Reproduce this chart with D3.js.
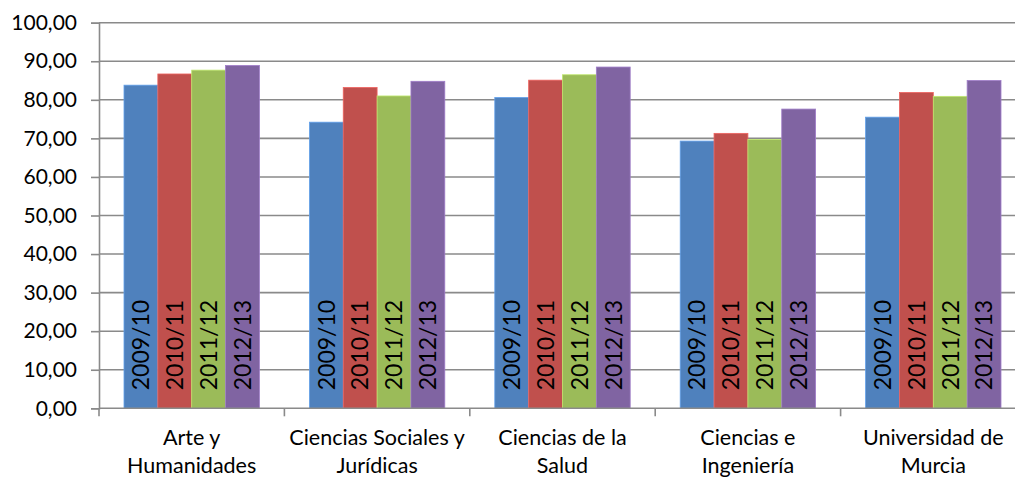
<!DOCTYPE html>
<html>
<head>
<meta charset="utf-8">
<script src="https://cdn.jsdelivr.net/npm/d3@7"></script>
<style>
html,body{margin:0;padding:0;background:#fff;}
svg{display:block;}
text{font-family:Lato, "Open Sans", sans-serif;fill:#000;}
</style>
</head>
<body>
<svg id="chart" width="1015" height="479"></svg>
<script>
const categories = [["Arte y","Humanidades"],["Ciencias Sociales y","Jurídicas"],["Ciencias de la","Salud"],["Ciencias e","Ingeniería"],["Universidad de","Murcia"]];
const seriesNames = ["2009/10","2010/11","2011/12","2012/13"];
const colors = ["#4F81BD","#C0504D","#9BBB59","#8064A2"];
const v2009 = [83.8, 74.2, 80.6, 69.3, 75.5];
const v2010 = [86.7, 83.2, 85.1, 71.3, 81.9];
const v2011 = [87.7, 81.0, 86.5, 69.7, 80.9];
const v2012 = [88.9, 84.8, 88.5, 77.6, 85.0];
const yTicks = [0,10,20,30,40,50,60,70,80,90,100];

(function(){
const values = [v2009, v2010, v2011, v2012];
const svg = d3.select("#chart");
const left = 99, topY = 22.7, bottom = 408.3, catW = 185.4;
const x = d3.scaleBand().domain(d3.range(categories.length)).range([left, left + catW*categories.length]);
const y = d3.scaleLinear().domain([0,100]).range([bottom, topY]);
const xs = d3.scaleBand().domain(d3.range(seriesNames.length)).range([25, catW-25]);
const grid = "#8a8a8a";

svg.append("g").selectAll("line").data(yTicks.filter(d=>d>0)).join("line")
  .attr("x1", left).attr("x2", 1015)
  .attr("y1", d=>y(d)).attr("y2", d=>y(d))
  .attr("stroke", grid).attr("stroke-width", 1.6);

const yAxis = d3.axisLeft(y).tickValues(yTicks).tickSize(8).tickPadding(14)
  .tickFormat(d => d3.format(".2f")(d).replace(".", ","));
const gy = svg.append("g").attr("transform", `translate(${left},0)`).call(yAxis);
gy.select(".domain").attr("stroke", grid).attr("stroke-width", 1.6);
gy.selectAll(".tick line").attr("stroke", grid).attr("stroke-width", 1.6);
gy.selectAll("text").style("font-size","21px").attr("fill","#000").attr("font-family","Lato");

const groups = svg.append("g").selectAll("g").data(categories).join("g")
  .attr("transform", (d,i)=>`translate(${x(i)},0)`);
groups.each(function(c, ci){
  const g = d3.select(this);
  seriesNames.forEach((s, si) => {
    const val = values[si][ci];
    g.append("rect")
      .attr("x", xs(si)).attr("width", xs.bandwidth())
      .attr("y", y(val)).attr("height", y(0)-y(val))
      .attr("fill", colors[si])
      .attr("stroke", d3.color(colors[si]).brighter(0.6)).attr("stroke-width", 0.8);
    g.append("text")
      .attr("transform", `translate(${xs(si)+xs.bandwidth()/2},${y(0)-18}) rotate(-90)`)
      .attr("dy", "0.36em")
      .attr("text-anchor","start")
      .style("font-size","23px")
      .text(s);
  });
});

const gx = svg.append("g").attr("transform", `translate(0,${bottom})`);
gx.append("line").attr("x1", left).attr("x2", 1015).attr("y1",0).attr("y2",0).attr("stroke", grid).attr("stroke-width",1.6);
gx.selectAll(".tickmark").data(d3.range(categories.length+1)).join("line")
  .attr("class","tickmark")
  .attr("x1", i=>left+i*catW).attr("x2", i=>left+i*catW)
  .attr("y1", 0).attr("y2", 8).attr("stroke", grid).attr("stroke-width",1.6);
categories.forEach((c, i) => {
  const t = gx.append("text").attr("text-anchor","middle")
    .attr("x", x(i)+x.bandwidth()/2).style("font-size","21.5px");
  c.forEach((line, li) => {
    t.append("tspan").attr("x", x(i)+x.bandwidth()/2).attr("y", 37 + li*28).text(line);
  });
});
})();
</script>
</body>
</html>
